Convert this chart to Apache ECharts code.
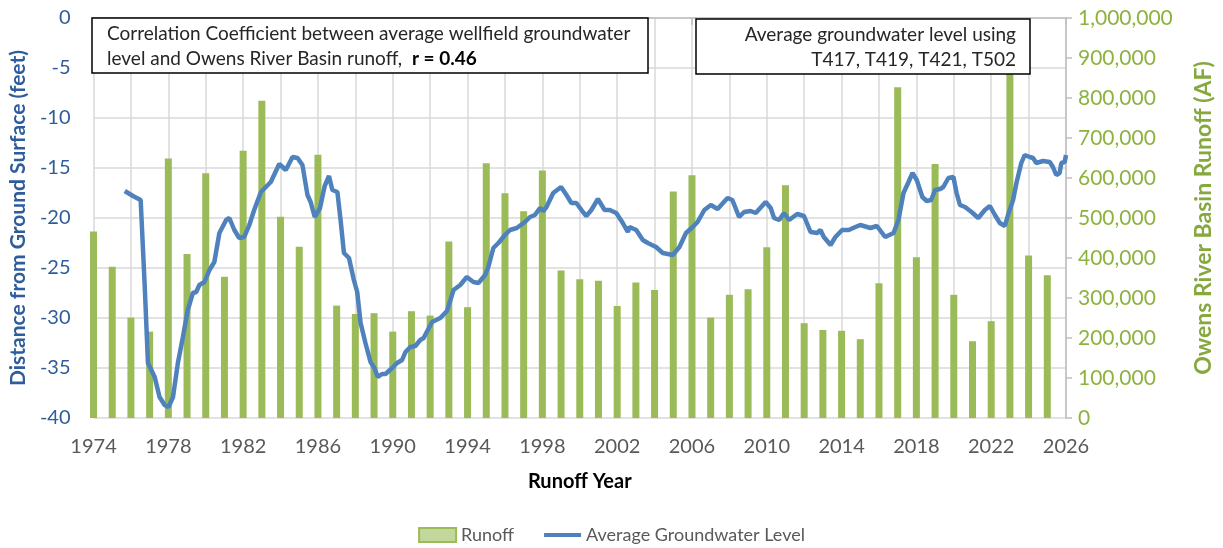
<!DOCTYPE html>
<html>
<head>
<meta charset="utf-8">
<script src="https://cdn.jsdelivr.net/npm/echarts@6/dist/echarts.min.js"></script>
<style>html,body{margin:0;padding:0;background:#fff;}#c{width:1223px;height:548px;}</style>
</head>
<body>
<div id="c"></div>
<script>
const runoffYears = [1974,1975,1976,1977,1978,1979,1980,1981,1982,1983,1984,1985,1986,1987,1988,1989,1990,1991,1992,1993,1994,1995,1996,1997,1998,1999,2000,2001,2002,2003,2004,2005,2006,2007,2008,2009,2010,2011,2012,2013,2014,2015,2016,2017,2018,2019,2020,2021,2022,2023,2024,2025];
const runoffValues = [466000,378000,251000,216000,649000,410000,612000,353000,668000,793000,503000,428000,658000,281000,260000,262000,216000,267000,256000,441000,277000,637000,562000,517000,619000,369000,347000,343000,280000,339000,320000,566000,607000,251000,308000,322000,427000,582000,237000,220000,218000,197000,337000,827000,402000,635000,308000,192000,242000,880000,406000,357000];

const gwYears = [1975.67,1976.11,1976.52,1976.73,1976.91,1977.27,1977.53,1977.8,1978.01,1978.25,1978.51,1978.78,1979.04,1979.31,1979.49,1979.66,1979.93,1980.2,1980.46,1980.73,1981.09,1981.26,1981.53,1981.79,1982.06,1982.33,1982.59,1982.95,1983.48,1983.93,1984.28,1984.64,1984.91,1985.17,1985.44,1985.61,1985.83,1986.11,1986.36,1986.59,1986.77,1987.04,1987.21,1987.39,1987.66,1987.92,1988.1,1988.28,1988.54,1988.81,1989.02,1989.2,1989.43,1989.61,1989.97,1990.23,1990.5,1990.68,1990.94,1991.21,1991.47,1991.65,1992.1,1992.54,1992.9,1993.25,1993.61,1993.96,1994.31,1994.58,1994.94,1995.11,1995.38,1995.65,1996.0,1996.27,1996.63,1997.07,1997.34,1997.6,1997.87,1998.05,1998.22,1998.58,1999.0,1999.29,1999.55,1999.82,2000.17,2000.35,2000.62,2000.97,2001.33,2001.6,2001.95,2002.3,2002.57,2002.66,2003.02,2003.37,2003.64,2004.08,2004.44,2004.97,2005.33,2005.68,2006.04,2006.3,2006.66,2007.01,2007.37,2007.9,2008.16,2008.52,2008.79,2009.14,2009.41,2009.94,2010.21,2010.39,2010.66,2010.92,2011.19,2011.63,2011.99,2012.34,2012.7,2012.87,2013.05,2013.41,2013.67,2014.03,2014.38,2014.74,2015.0,2015.36,2015.54,2015.89,2016.33,2016.78,2017.04,2017.31,2017.58,2017.79,2018.02,2018.32,2018.55,2018.79,2019.0,2019.27,2019.44,2019.71,2019.98,2020.15,2020.33,2020.6,2020.95,2021.31,2021.66,2021.93,2022.2,2022.46,2022.73,2022.9,2023.17,2023.35,2023.61,2023.79,2024.06,2024.24,2024.41,2024.5,2024.77,2025.13,2025.3,2025.48,2025.66,2025.75,2025.93,2026.0];
const gwLevels = [-17.3,-17.8,-18.2,-26.5,-34.5,-35.9,-37.9,-38.7,-38.9,-37.9,-34.5,-31.9,-29.2,-27.5,-27.4,-26.7,-26.4,-25.2,-24.4,-21.5,-20.2,-20.0,-21.2,-22.0,-21.9,-20.7,-19.2,-17.4,-16.4,-14.6,-15.2,-13.9,-14.0,-14.7,-17.7,-18.4,-19.9,-19.0,-16.8,-15.8,-17.2,-17.4,-20.2,-23.5,-24.0,-26.2,-27.4,-30.5,-32.5,-34.4,-35.0,-35.9,-35.6,-35.6,-35.0,-34.5,-34.2,-33.4,-32.9,-32.8,-32.2,-32.0,-30.4,-30.0,-29.3,-27.2,-26.7,-25.9,-26.4,-26.5,-25.7,-24.9,-23.0,-22.5,-21.7,-21.2,-21.0,-20.4,-19.9,-19.7,-19.0,-19.3,-18.9,-17.5,-16.9,-17.7,-18.5,-18.5,-19.4,-19.8,-19.2,-18.1,-19.2,-19.2,-19.5,-20.5,-21.4,-20.9,-21.2,-22.2,-22.5,-22.9,-23.5,-23.7,-22.9,-21.5,-20.9,-20.4,-19.2,-18.7,-19.1,-18.0,-18.2,-19.9,-19.4,-19.3,-19.5,-18.4,-19.0,-20.0,-20.2,-19.5,-20.2,-19.6,-19.8,-21.4,-21.5,-21.2,-21.9,-22.7,-21.9,-21.2,-21.2,-20.9,-20.7,-20.9,-21.0,-20.8,-21.9,-21.5,-20.2,-17.5,-16.4,-15.5,-16.2,-17.9,-18.3,-18.2,-17.2,-17.1,-16.9,-16.0,-15.9,-17.5,-18.7,-18.9,-19.4,-20.0,-19.2,-18.8,-19.7,-20.5,-20.8,-19.7,-18.2,-16.5,-14.5,-13.7,-13.9,-14.0,-14.5,-14.3,-14.3,-14.4,-14.9,-15.7,-15.5,-14.5,-14.4,-13.7];

const leftTicks = {min: -40, max: 0, interval: 5};
const rightTicks = {min: 0, max: 1000000, interval: 100000};
const xTicks = {min: 1974, max: 2026, interval: 4};

const FONT = 'Lato';
const chart = echarts.init(document.getElementById('c'), null, {renderer: 'canvas'});

const runoffData = runoffYears.map((y, i) => [y, runoffValues[i]]);
const gwData = gwYears.map((y, i) => [y, gwLevels[i]]);

chart.setOption({
  animation: false,
  backgroundColor: '#ffffff',
  grid: {left: 92, right: 155, top: 18, bottom: 130, containLabel: false},
  textStyle: {fontFamily: FONT},
  legend: {
    bottom: -1,
    left: 'center',
    itemWidth: 37,
    itemHeight: 14,
    itemGap: 30,
    textStyle: {fontFamily: FONT, fontSize: 18, color: '#595959'},
    data: [
      {name: 'Runoff', icon: 'rect', itemStyle: {color: '#C3D69B', borderColor: '#9BBB59', borderWidth: 2}},
      {name: 'Average Groundwater Level', icon: 'path://M0,0H40V4.5H0Z', itemStyle: {color: '#4F81BD'}}
    ]
  },
  xAxis: {
    type: 'value',
    min: xTicks.min, max: xTicks.max, interval: xTicks.interval,
    name: 'Runoff Year',
    nameLocation: 'middle',
    nameGap: 54,
    nameTextStyle: {fontFamily: FONT, fontSize: 20, fontWeight: 'bold', color: '#000000'},
    axisLine: {show: true, lineStyle: {color: '#BFBFBF', width: 1.5}},
    axisTick: {show: true, length: 7, lineStyle: {color: '#BFBFBF', width: 1.5}},
    axisLabel: {fontFamily: FONT, fontSize: 20, color: '#595959', margin: 19, formatter: v => String(v)},
    splitLine: {show: true, lineStyle: {color: '#D9D9D9', width: 1.5}},
    minorTick: {show: false, splitNumber: 2},
    minorSplitLine: {show: true, lineStyle: {color: '#D9D9D9', width: 1.5}}
  },
  yAxis: [
    {
      type: 'value',
      min: leftTicks.min, max: leftTicks.max, interval: leftTicks.interval,
      name: 'Distance from Ground Surface (feet)',
      nameLocation: 'middle',
      nameRotate: 90,
      nameGap: 57,
      nameTextStyle: {fontFamily: FONT, fontSize: 21, fontWeight: 'bold', color: '#2F5D9B'},
      axisLine: {show: false},
      axisTick: {show: false},
      axisLabel: {fontFamily: FONT, fontSize: 20, color: '#2F5D9B', margin: 23},
      splitLine: {show: true, lineStyle: {color: '#D9D9D9', width: 1.5}}
    },
    {
      type: 'value',
      position: 'right',
      min: rightTicks.min, max: rightTicks.max, interval: rightTicks.interval,
      name: 'Owens River Basin Runoff (AF)',
      nameLocation: 'middle',
      nameRotate: 90,
      nameGap: 126,
      nameTextStyle: {fontFamily: FONT, fontSize: 23, fontWeight: 'bold', color: '#86A83E'},
      axisLine: {show: true, lineStyle: {color: '#BFBFBF', width: 1.5}},
      axisTick: {show: true, length: 6, lineStyle: {color: '#BFBFBF', width: 1.5}},
      axisLabel: {fontFamily: FONT, fontSize: 21, color: '#8DB33F', margin: 12,
        formatter: v => v.toLocaleString('en-US')},
      splitLine: {show: false}
    }
  ],
  series: [
    {
      name: 'Runoff',
      type: 'bar',
      yAxisIndex: 1,
      data: runoffData,
      barWidth: 7,
      itemStyle: {color: '#9BBB59'},
      clip: true,
      z: 2
    },
    {
      name: 'Average Groundwater Level',
      type: 'line',
      yAxisIndex: 0,
      data: gwData,
      showSymbol: false,
      symbol: 'none',
      lineStyle: {color: '#4F81BD', width: 4.5},
      itemStyle: {color: '#4F81BD'},
      z: 3
    }
  ],
  graphic: {
    elements: [
      {type: 'rect', z: 100, zlevel: 1, shape: {x: 92, y: 18, width: 556, height: 55},
        style: {fill: '#ffffff', stroke: '#000000', lineWidth: 1.5}},
      {type: 'text', z: 101, zlevel: 1, x: 107, y: 34,
        style: {text: 'Correlation Coefficient between average wellfield groundwater', fontFamily: FONT, fontSize: 19, fill: '#262626', verticalAlign: 'middle', align: 'left'}},
      {type: 'text', z: 101, zlevel: 1, x: 107, y: 59,
        style: {text: '{n|level and Owens River Basin runoff,  }{b|r = 0.46}', verticalAlign: 'middle', align: 'left',
          rich: {n: {fontFamily: FONT, fontSize: 19, fill: '#262626'}, b: {fontFamily: FONT, fontSize: 19, fontWeight: 'bold', fill: '#000000'}}}},
      {type: 'rect', z: 100, zlevel: 1, shape: {x: 696, y: 19, width: 334, height: 55},
        style: {fill: '#ffffff', stroke: '#000000', lineWidth: 1.5}},
      {type: 'text', z: 101, zlevel: 1, x: 1016, y: 35,
        style: {text: 'Average groundwater level using', fontFamily: FONT, fontSize: 19, fill: '#262626', verticalAlign: 'middle', align: 'right'}},
      {type: 'text', z: 101, zlevel: 1, x: 1016, y: 60,
        style: {text: 'T417, T419, T421, T502', fontFamily: FONT, fontSize: 19, fill: '#262626', verticalAlign: 'middle', align: 'right'}}
    ]
  }
});
</script>
</body>
</html>
